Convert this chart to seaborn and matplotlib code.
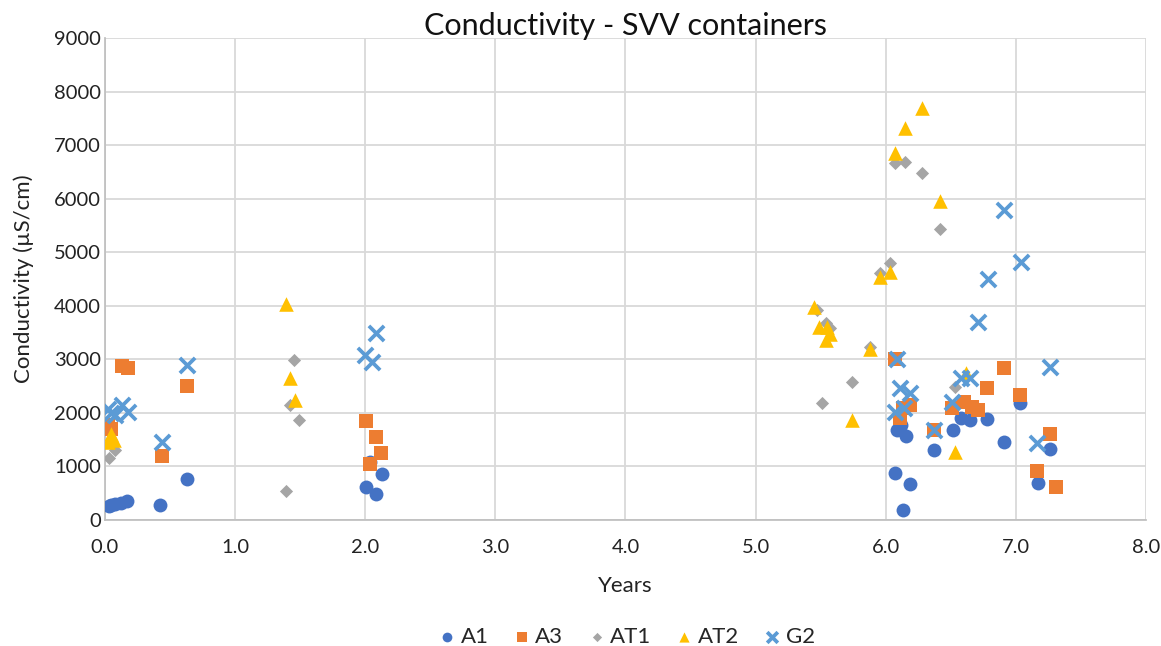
import numpy as np
import pandas as pd
import seaborn as sns
import matplotlib.pyplot as plt
from matplotlib.ticker import FormatStrFormatter, MultipleLocator

sns.set_theme(style="white")
plt.rcParams["font.family"] = ["Lato", "DejaVu Sans"]

# values
a1_x = [0.03, 0.05, 0.08, 0.12, 0.17, 0.42, 0.63, 2.01, 2.04, 2.08, 2.13,
        6.07, 6.09, 6.12, 6.13, 6.16, 6.19, 6.37, 6.52, 6.58, 6.65, 6.78,
        6.91, 7.03, 7.17, 7.26]
a1_y = [270, 290, 300, 320, 350, 290, 770, 620, 1080, 490, 860,
        870, 1680, 1770, 190, 1570, 670, 1310, 1680, 1900, 1870, 1890,
        1460, 2180, 690, 1330]

a3_x = [0.02, 0.05, 0.13, 0.18, 0.44, 0.63, 2.01, 2.04, 2.08, 2.12,
        6.07, 6.11, 6.13, 6.19, 6.37, 6.51, 6.60, 6.66, 6.71, 6.78, 6.91,
        7.03, 7.16, 7.26, 7.31]
a3_y = [1780, 1700, 2870, 2840, 1200, 2500, 1850, 1050, 1550, 1250,
        3010, 1900, 2090, 2150, 1680, 2090, 2200, 2110, 2050, 2460, 2840,
        2330, 920, 1600, 610]

at1_x = [0.03, 0.08, 1.39, 1.42, 1.45, 1.49, 5.47, 5.51, 5.54, 5.57, 5.74,
         5.88, 5.96, 6.03, 6.07, 6.15, 6.28, 6.42, 6.53]
at1_y = [1150, 1300, 540, 2150, 2990, 1870, 3920, 2180, 3680, 3580, 2580,
         3230, 4610, 4800, 6660, 6690, 6480, 5430, 2480]

at2_x = [0.02, 0.05, 0.07, 1.39, 1.42, 1.46, 5.45, 5.49, 5.54, 5.55, 5.57,
         5.74, 5.88, 5.96, 6.03, 6.07, 6.15, 6.28, 6.42, 6.53, 6.62]
at2_y = [1450, 1600, 1500, 4030, 2650, 2240, 3980, 3600, 3360, 3600, 3480,
         1870, 3190, 4540, 4630, 6850, 7320, 7690, 5960, 1270, 2740]

g2_x = [0.02, 0.05, 0.08, 0.13, 0.18, 0.44, 0.63, 2.00, 2.05, 2.08,
        6.07, 6.09, 6.11, 6.14, 6.19, 6.37, 6.51, 6.58, 6.65, 6.71, 6.79,
        6.91, 7.04, 7.16, 7.26]
g2_y = [2080, 2000, 1960, 2150, 2020, 1460, 2900, 3080, 2950, 3490,
        2020, 3010, 2460, 2090, 2370, 1680, 2200, 2650, 2650, 3700, 4500,
        5790, 4820, 1440, 2860]

series = [
    ("A1", a1_x, a1_y, "#4472C4", "o", 100, 0),
    ("A3", a3_x, a3_y, "#ED7D31", "s", 95, 0),
    ("AT1", at1_x, at1_y, "#A5A5A5", "D", 45, 0),
    ("AT2", at2_x, at2_y, "#FFC000", "^", 110, 0),
    ("G2", g2_x, g2_y, "#5B9BD5", "x", 120, 2.7),
]

fig = plt.figure(figsize=(11.61, 6.46), dpi=100)
ax = fig.add_axes([0.0904, 0.195, 0.8966, 0.746])

for name, xs, ys, col, mk, size, lw in series:
    df = pd.DataFrame({"Years": xs, "Cond": ys})
    sns.scatterplot(data=df, x="Years", y="Cond", ax=ax, color=col,
                    marker=mk, s=size, linewidth=lw, edgecolor=col if lw == 0 else None,
                    label=name, zorder=3)

ax.set_xlim(0, 8)
ax.set_ylim(0, 9000)
ax.xaxis.set_major_locator(MultipleLocator(1))
ax.yaxis.set_major_locator(MultipleLocator(1000))
ax.xaxis.set_major_formatter(FormatStrFormatter("%.1f"))
ax.grid(True, color="#D9D9D9", linewidth=1.3)
ax.set_axisbelow(True)
for sp in ax.spines.values():
    sp.set_visible(False)
ax.spines["left"].set_visible(True)
ax.spines["bottom"].set_visible(True)
ax.spines["left"].set_color("#BFBFBF")
ax.spines["bottom"].set_color("#BFBFBF")
ax.tick_params(length=0, labelsize=14.5, colors="#222222")
ax.tick_params(axis="x", pad=14)
ax.tick_params(axis="y", pad=3)

ax.set_title("Conductivity - SVV containers", fontsize=22, color="#111111", pad=2)
ax.set_xlabel("Years", fontsize=16, color="#222222", labelpad=14)
ax.set_ylabel("Conductivity (µS/cm)", fontsize=16, color="#222222", labelpad=14)

ax.legend(loc="upper center", bbox_to_anchor=(0.5, -0.18), ncol=5,
          frameon=False, fontsize=16, markerscale=0.7, handletextpad=0.1,
          columnspacing=1.0, handlelength=1.0)

plt.savefig("out.png", dpi=100)
